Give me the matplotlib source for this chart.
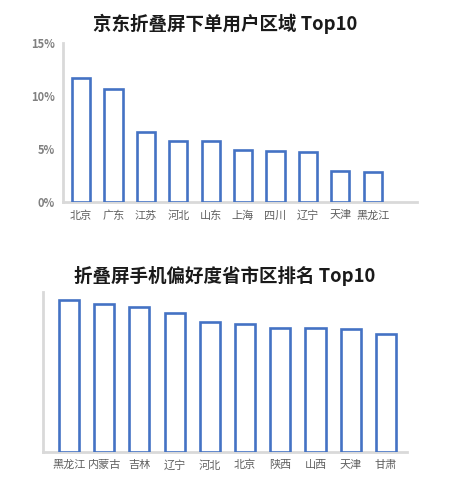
import matplotlib
matplotlib.use("Agg")
import matplotlib.pyplot as plt
from matplotlib.ticker import FuncFormatter

plt.rcParams['font.family'] = ['Noto Sans CJK SC', 'DejaVu Sans']

# Chart 1 data
regions1 = ['北京', '广东', '江苏', '河北', '山东', '上海', '四川', '辽宁', '天津', '黑龙江']
share1 = [11.73, 10.69, 6.6, 5.79, 5.79, 4.87, 4.84, 4.75, 2.9, 2.83]
yticks1 = [0, 5, 10, 15]
title1 = '京东折叠屏下单用户区域 Top10'

# Chart 2 data
regions2 = ['黑龙江', '内蒙古', '吉林', '辽宁', '河北', '北京', '陕西', '山西', '天津', '甘肃']
pref2 = [95.0, 92.7, 90.4, 87.0, 81.2, 80.1, 77.6, 77.6, 76.8, 73.9]
title2 = '折叠屏手机偏好度省市区排名 Top10'

W, H = 450, 492
fig = plt.figure(figsize=(W / 100, H / 100), dpi=100)
fig.patch.set_facecolor('white')

bar_color = '#4472C4'
axis_color = '#D9D9D9'
label_color = '#606060'


def style_axes(ax):
    for s in ['top', 'right']:
        ax.spines[s].set_visible(False)
    for s in ['left', 'bottom']:
        ax.spines[s].set_color(axis_color)
        ax.spines[s].set_linewidth(2)
    ax.tick_params(axis='both', length=0)


# Top chart
ax1 = fig.add_axes([63 / W, 1 - 202 / H, (417 - 63) / W, (202 - 43) / H])
x1 = list(range(len(regions1)))
ax1.bar(x1, share1, width=0.56, facecolor='white', edgecolor=bar_color, linewidth=1.9, zorder=3)
ax1.set_xlim(-0.56, 10.37)
ax1.set_ylim(0, 15)
ax1.set_yticks(yticks1)
ax1.yaxis.set_major_formatter(FuncFormatter(lambda v, p: f'{int(v)}%'))
ax1.set_xticks(x1)
ax1.set_xticklabels(regions1, fontsize=8, color=label_color)
for t in ax1.get_yticklabels():
    t.set_fontsize(8)
    t.set_color('#808080')
    t.set_fontweight('bold')
ax1.tick_params(axis='y', pad=6)
ax1.tick_params(axis='x', pad=6)
style_axes(ax1)
fig.text(0.5, 1 - 24 / H, title1, ha='center', va='center', fontsize=13.3, fontweight='bold', color='#1a1a1a')

# Bottom chart
ax2 = fig.add_axes([43 / W, 1 - 451.7 / H, (407 - 43) / W, (451.7 - 292) / H])
x2 = list(range(len(regions2)))
ax2.bar(x2, pref2, width=0.57, facecolor='white', edgecolor=bar_color, linewidth=1.9, zorder=3)
ax2.set_xlim(-0.74, 9.6)
ax2.set_ylim(0, 100)
ax2.set_yticks([])
ax2.set_xticks(x2)
ax2.set_xticklabels(regions2, fontsize=8, color=label_color)
ax2.tick_params(axis='x', pad=6)
style_axes(ax2)
fig.text(0.5, 1 - 276 / H, title2, ha='center', va='center', fontsize=13.3, fontweight='bold', color='#1a1a1a')

fig.savefig('out.png', dpi=100, facecolor='white')
